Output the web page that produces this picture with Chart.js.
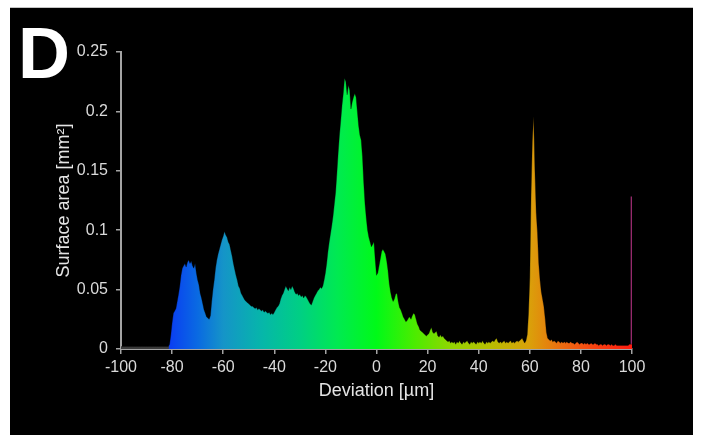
<!DOCTYPE html>
<html>
<head>
<meta charset="utf-8">
<title>Surface deviation histogram</title>
<script src="https://cdn.jsdelivr.net/npm/chart.js@4.4.1/dist/chart.umd.min.js"></script>
<style>
    html, body { margin: 0; padding: 0; background: #fff; }
    #panel { position: absolute; left: 10px; top: 7px; width: 683px; height: 428px; background: #000; border-top: 1px solid #c4c4c4; }
    #panelLabel { position: absolute; left: 8px; top: 9px; color: #fff; font: bold 72px "Liberation Sans", Arial, sans-serif; line-height: 1; }
    #deviationChart { position: absolute; left: 0; top: 0; }
</style>
</head>
<body>
<div id="panel">
    <canvas id="deviationChart" width="683" height="427"></canvas>
    <div id="panelLabel">D</div>
</div>
<script>
    // histogram bins: -100 .. 100 µm, 0.5 µm wide
    var binStart = -100;
    var binStep = 0.5;

    // surface area per bin [mm2], one row = 10 µm
    var surfaceArea = [
        0.002, 0.002, 0.002, 0.002, 0.002, 0.002, 0.002, 0.002, 0.002, 0.002, 0.002, 0.002, 0.002, 0.002, 0.002, 0.002, 0.002, 0.002, 0.002, 0.002,
        0.002, 0.002, 0.002, 0.002, 0.002, 0.002, 0.002, 0.002, 0.002, 0.002, 0.002, 0.002, 0.002, 0.002, 0.002, 0.002, 0.002, 0.002, 0.004, 0.012,
        0.022, 0.030, 0.032, 0.034, 0.040, 0.046, 0.053, 0.062, 0.068, 0.070, 0.072, 0.069, 0.073, 0.075, 0.072, 0.074, 0.070, 0.068, 0.072, 0.064,
        0.058, 0.054, 0.047, 0.043, 0.038, 0.033, 0.030, 0.027, 0.026, 0.025, 0.028, 0.040, 0.050, 0.058, 0.068, 0.075, 0.080, 0.084, 0.088, 0.092,
        0.095, 0.099, 0.096, 0.094, 0.090, 0.088, 0.083, 0.078, 0.072, 0.067, 0.062, 0.058, 0.053, 0.051, 0.047, 0.045, 0.043, 0.041, 0.040, 0.039,
        0.038, 0.037, 0.036, 0.036, 0.035, 0.034, 0.035, 0.033, 0.034, 0.033, 0.032, 0.033, 0.031, 0.032, 0.031, 0.030, 0.031, 0.029, 0.030, 0.029,
        0.031, 0.033, 0.035, 0.036, 0.038, 0.042, 0.045, 0.047, 0.050, 0.053, 0.051, 0.049, 0.052, 0.050, 0.053, 0.051, 0.048, 0.046, 0.047, 0.045,
        0.046, 0.044, 0.045, 0.043, 0.045, 0.044, 0.042, 0.040, 0.038, 0.037, 0.040, 0.043, 0.045, 0.047, 0.049, 0.050, 0.052, 0.051, 0.053, 0.058,
        0.064, 0.072, 0.082, 0.090, 0.097, 0.104, 0.112, 0.122, 0.132, 0.148, 0.165, 0.180, 0.192, 0.205, 0.215, 0.228, 0.225, 0.214, 0.222, 0.218,
        0.202, 0.208, 0.212, 0.215, 0.212, 0.200, 0.188, 0.180, 0.176, 0.162, 0.140, 0.122, 0.110, 0.100, 0.094, 0.090, 0.086, 0.088, 0.090, 0.075,
        0.062, 0.064, 0.070, 0.076, 0.082, 0.084, 0.082, 0.080, 0.074, 0.066, 0.055, 0.048, 0.043, 0.040, 0.042, 0.046, 0.047, 0.040, 0.035, 0.033,
        0.030, 0.027, 0.025, 0.023, 0.024, 0.026, 0.027, 0.025, 0.028, 0.030, 0.029, 0.025, 0.021, 0.019, 0.016, 0.015, 0.014, 0.013, 0.012, 0.011,
        0.012, 0.013, 0.016, 0.018, 0.014, 0.013, 0.014, 0.015, 0.011, 0.010, 0.012, 0.010, 0.011, 0.009, 0.008, 0.007, 0.006, 0.007, 0.005, 0.006,
        0.005, 0.006, 0.004, 0.006, 0.005, 0.007, 0.005, 0.004, 0.006, 0.005, 0.006, 0.007, 0.005, 0.004, 0.006, 0.005, 0.006, 0.005, 0.004, 0.006,
        0.005, 0.006, 0.005, 0.007, 0.005, 0.004, 0.006, 0.005, 0.006, 0.005, 0.006, 0.007, 0.006, 0.008, 0.009, 0.006, 0.005, 0.006, 0.005, 0.006,
        0.007, 0.005, 0.006, 0.005, 0.006, 0.007, 0.005, 0.006, 0.005, 0.006, 0.007, 0.006, 0.007, 0.008, 0.009, 0.007, 0.005, 0.007, 0.012, 0.030,
        0.060, 0.130, 0.175, 0.196, 0.150, 0.115, 0.098, 0.072, 0.058, 0.048, 0.042, 0.036, 0.026, 0.014, 0.009, 0.008, 0.007, 0.008, 0.006, 0.007,
        0.006, 0.005, 0.007, 0.006, 0.005, 0.006, 0.005, 0.006, 0.005, 0.006, 0.005, 0.005, 0.006, 0.005, 0.005, 0.004, 0.005, 0.006, 0.005, 0.004,
        0.005, 0.005, 0.004, 0.005, 0.004, 0.005, 0.004, 0.004, 0.005, 0.004, 0.004, 0.005, 0.004, 0.004, 0.003, 0.004, 0.004, 0.003, 0.004, 0.004,
        0.003, 0.004, 0.004, 0.003, 0.004, 0.003, 0.003, 0.004, 0.003, 0.003, 0.003, 0.003, 0.003, 0.003, 0.003, 0.003, 0.003, 0.003, 0.004, 0.004,
        0.004
    ];

    // the out-of-range bin at the right edge
    var edgeBinPosition = 100;
    var edgeBinValue = 0.128;

    // colour map along the deviation axis
    var colourStops = [
        [-100, '#3c3c3c'], [-81.5, '#3c3c3c'], [-81, '#0a3ef2'], [-70, '#0a6ae2'],
        [-60, '#1594c8'], [-45, '#06b6aa'], [-30, '#00cf84'], [-15, '#00ea50'],
        [0, '#00fa18'], [15, '#4cec00'], [30, '#96d400'], [45, '#b8bc00'],
        [60, '#daa00a'], [72, '#ec6e10'], [88, '#fa3a10'], [100, '#ff1c10']
    ];

    var axisGrey = '#a4a4a4';
    var fontFamily = '"Liberation Sans", Arial, sans-serif';

    var gradientCache = null;

    function deviationGradient(context) {
        var chart = context.chart;
        var area = chart.chartArea;
        if (!area) {
            return null;
        }
        var xScale = chart.scales.x;
        var left = xScale.getPixelForValue(-100);
        var right = xScale.getPixelForValue(100);
        if (gradientCache && gradientCache.left === left && gradientCache.right === right) {
            return gradientCache.gradient;
        }
        var gradient = chart.ctx.createLinearGradient(left, 0, right, 0);
        colourStops.forEach(function (stop) {
            gradient.addColorStop((stop[0] + 100) / 200, stop[1]);
        });
        gradientCache = { left: left, right: right, gradient: gradient };
        return gradient;
    }

    function drawDeviationChart() {
        var points = surfaceArea.map(function (value, i) {
            return { x: binStart + i * binStep, y: value };
        });

        var ctx = document.getElementById('deviationChart').getContext('2d');
        new Chart(ctx, {
            type: 'line',
            data: {
                datasets: [{
                    label: 'Surface area',
                    data: points,
                    fill: 'origin',
                    backgroundColor: deviationGradient,
                    borderColor: 'rgba(0, 0, 0, 0.3)',
                    borderWidth: 1,
                    pointRadius: 0,
                    tension: 0
                }, {
                    type: 'bar',
                    label: 'Edge bin',
                    data: [{ x: edgeBinPosition, y: edgeBinValue }],
                    backgroundColor: '#952a6c',
                    barThickness: 2
                }]
            },
            options: {
                responsive: false,
                animation: false,
                devicePixelRatio: 1,
                layout: { padding: { left: 0, top: 44, right: 61, bottom: 0 } },
                plugins: {
                    legend: { display: false },
                    tooltip: { enabled: false }
                },
                scales: {
                    x: {
                        type: 'linear',
                        min: -100,
                        max: 100,
                        offset: false,
                        afterFit: function (scale) { scale.height = 86; },
                        ticks: {
                            stepSize: 20,
                            autoSkip: false,
                            maxRotation: 0,
                            padding: 4,
                            color: '#dadada',
                            font: { family: fontFamily, size: 16 }
                        },
                        grid: { drawOnChartArea: false, tickLength: 5, color: axisGrey, lineWidth: 1.5, offset: false },
                        border: { display: true, color: axisGrey, width: 2 },
                        title: {
                            display: true,
                            text: 'Deviation [µm]',
                            color: '#e4e4e4',
                            font: { family: fontFamily, size: 18 },
                            padding: { top: 0, bottom: 33 }
                        }
                    },
                    y: {
                        min: 0,
                        max: 0.25,
                        afterFit: function (scale) { scale.width = 111; },
                        ticks: {
                            stepSize: 0.05,
                            padding: 8,
                            color: '#dadada',
                            font: { family: fontFamily, size: 16 },
                            callback: function (value) { return String(+value.toFixed(2)); }
                        },
                        grid: { drawOnChartArea: false, tickLength: 5, color: axisGrey, lineWidth: 1.5 },
                        border: { display: true, color: axisGrey, width: 2 },
                        title: {
                            display: true,
                            text: 'Surface area [mm²]',
                            color: '#e4e4e4',
                            font: { family: fontFamily, size: 18 },
                            padding: { top: 43, bottom: 0 }
                        }
                    }
                }
            }
        });
    }

    drawDeviationChart();
</script>
</body>
</html>
